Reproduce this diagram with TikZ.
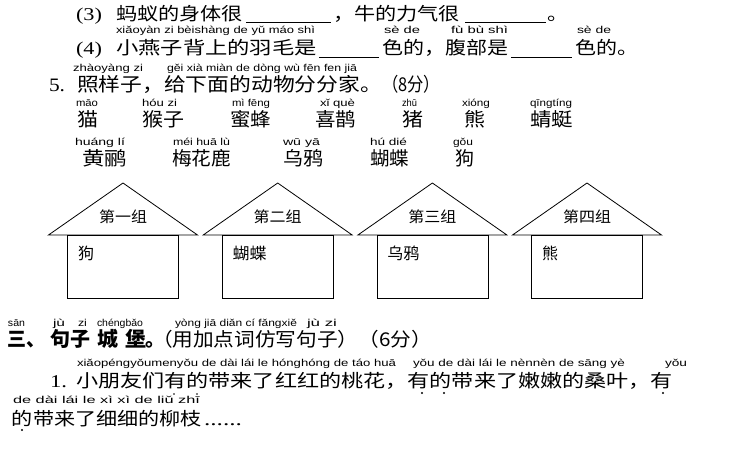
\documentclass[tikz,border=0pt]{standalone}
\usepackage{fontspec}
\usepackage{graphicx}
\setmainfont{Liberation Serif}
\newfontfamily\cjk{Noto Sans CJK SC}
\newfontfamily\py{Liberation Sans}
\newcommand\fw[2]{\resizebox{#1pt}{\height}{#2}}
\newcommand\fsz[1]{\fontsize{#1}{#1}\selectfont}
\tikzset{
 txt/.style={anchor=base west, inner sep=0pt, outer sep=0pt},
 pyt/.style={txt, font=\py\fsz{10}},
 zh/.style={txt, font=\cjk\fsz{18}},
 bigzh/.style={txt, font=\cjk\fsz{19}},
 hd/.style={txt, font=\cjk\bfseries\fsz{20}},
 hdr/.style={txt, font=\cjk\fsz{19}},
 num/.style={txt, font=\fsz{18}},
 numbig/.style={txt, font=\fsz{19}},
 lab/.style={anchor=base, inner sep=0pt, font=\cjk\fsz{15}},
 boxtxt/.style={txt, font=\cjk\fsz{16}},
 blank/.style={line width=0.6pt},
 house/.style={line width=0.8pt},
 emdot/.style={circle, fill, inner sep=0pt, minimum size=2.4pt},
 smdot/.style={circle, fill, inner sep=0pt, minimum size=1.8pt}
}
\begin{document}
\begin{tikzpicture}[x=1pt,y=-1pt]
\useasboundingbox (0,0) rectangle (748,459);
% ---- line (3)
\node[num] (n3) at (76,20) {\fw{26}{(3)}};
\node[zh] (l3a) at (116,20) {\fw{127}{蚂蚁的身体很}};
\coordinate (b1s) at (246,22); \coordinate (b1e) at (331,22);
\draw[blank] (b1s) -- (b1e);
\node[zh] (l3b) at (333,20) {\fw{127}{，牛的力气很}};
\coordinate (b2s) at (465,22); \coordinate (b2e) at (546,22);
\draw[blank] (b2s) -- (b2e);
\node[zh] (l3c) at (547,20) {\fw{21}{。}};
% ---- line (4)
\node[num] (n4) at (76,54) {\fw{26}{(4)}};
\node[pyt] (p4a) at (116,33) {\fw{199}{xiǎoyàn zi bèishàng de yǔ máo shì}};
\node[zh] (l4a) at (116,54) {\fw{201}{小燕子背上的羽毛是}};
\coordinate (b3s) at (319,57); \coordinate (b3e) at (379,57);
\draw[blank] (b3s) -- (b3e);
\node[pyt] (p4b) at (384,33) {\fw{36}{sè de}};
\node[zh] (l4b) at (382,54) {\fw{126}{色的，腹部是}};
\node[pyt] (p4c) at (451,33) {\fw{57}{fù bù shì}};
\coordinate (b4s) at (511,57); \coordinate (b4e) at (572,57);
\draw[blank] (b4s) -- (b4e);
\node[pyt] (p4d) at (577,33) {\fw{34}{sè de}};
\node[zh] (l4c) at (575,54) {\fw{63}{色的。}};
% ---- section 5
\node[pyt] (p5a) at (73,71) {\fw{70}{zhàoyàng zi}};
\node[pyt] (p5b) at (167,71) {\fw{190}{gěi xià miàn de dòng wù fēn fen jiā}};
\node[numbig] (n5) at (49,91) {\fw{16}{5.}};
\node[bigzh] (t5) at (77,91) {\fw{305}{照样子，给下面的动物分分家。}};
\node[bigzh] (s5) at (382,91) {\fw{58}{（8分）}};
% ---- animals row 1
\node[pyt] (pa1) at (76,106) {\fw{22}{māo}};
\node[pyt] (pa2) at (142,106) {\fw{35}{hóu zi}};
\node[pyt] (pa3) at (232,106) {\fw{38}{mì fēng}};
\node[pyt] (pa4) at (320,106) {\fw{35}{xǐ què}};
\node[pyt] (pa5) at (402,106) {\fw{15}{zhū}};
\node[pyt] (pa6) at (462,106) {\fw{28}{xióng}};
\node[pyt] (pa7) at (530,106) {\fw{42}{qīngtíng}};
\node[bigzh] (ta1) at (77,126) {\fw{21}{猫}};
\node[bigzh] (ta2) at (142,126) {\fw{42}{猴子}};
\node[bigzh] (ta3) at (230,126) {\fw{41}{蜜蜂}};
\node[bigzh] (ta4) at (315,126) {\fw{41}{喜鹊}};
\node[bigzh] (ta5) at (402,126) {\fw{21}{猪}};
\node[bigzh] (ta6) at (464,126) {\fw{21}{熊}};
\node[bigzh] (ta7) at (530,126) {\fw{43}{蜻蜓}};
% ---- animals row 2
\node[pyt] (pb1) at (75,145) {\fw{50}{huáng lí}};
\node[pyt] (pb2) at (173,145) {\fw{57}{méi huā lù}};
\node[pyt] (pb3) at (283,145) {\fw{37}{wū yā}};
\node[pyt] (pb4) at (370,145) {\fw{37}{hú dié}};
\node[pyt] (pb5) at (453,145) {\fw{20}{gǒu}};
\node[bigzh] (tb1) at (82,165) {\fw{45}{黄鹂}};
\node[bigzh] (tb2) at (172,165) {\fw{59}{梅花鹿}};
\node[bigzh] (tb3) at (283,165) {\fw{40}{乌鸦}};
\node[bigzh] (tb4) at (370,165) {\fw{39}{蝴蝶}};
\node[bigzh] (tb5) at (455,165) {\fw{19}{狗}};
% ---- houses
\foreach \i/\cx/\g/\a/\aw in {1/123/第一组/狗/16, 2/277.7/第二组/蝴蝶/34, 3/432.4/第三组/乌鸦/32, 4/587/第四组/熊/16} {
  \draw[house] ({\cx-74.5},235) -- (\cx,183) -- ({\cx+74.5},235) -- cycle;
  \draw[house] ({\cx-55.5},235) rectangle ({\cx+55.5},298);
  \node[lab] (g\i) at (\cx,222) {\fw{48}{\g}};
  \node[boxtxt] (a\i) at ({\cx-45},259) {\fw{\aw}{\a}};
}
% ---- section three
\node[pyt] (ps1) at (8,326) {\fw{17}{sān}};
\node[pyt] (ps2) at (53,326) {\fw{12}{jù}};
\node[pyt] (ps3) at (78,326) {\fw{9}{zi}};
\node[pyt] (ps4) at (97,326) {\fw{46}{chéngbǎo}};
\node[pyt] (ps5) at (175,326) {\fw{122}{yòng jiā diǎn cí fǎngxiě}};
\node[pyt] (ps6) at (307,326) {\fw{30}{jù zi}};
\node[hd] (h1) at (8,346) {\fw{38}{三、}};
\node[hd] (h2) at (50,346) {\fw{40}{句子}};
\node[hd] (h3) at (97,346) {\fw{21}{城}};
\node[hd] (h4) at (125,346) {\fw{21}{堡}};
\node[hd] (h5) at (145,346) {\makebox[7pt][l]{。}};
\node[hdr] (h6) at (152,346) {\fw{280}{（用加点词仿写句子）（6分）}};
% ---- sentence 1
\node[pyt] (p1a) at (77,366) {\fw{319}{xiǎopéngyǒumenyǒu de dài lái le hónghóng de táo huā}};
\node[pyt] (p1b) at (413,366) {\fw{212}{yǒu de dài lái le nènnèn de sāng yè}};
\node[pyt] (p1c) at (665,366) {\fw{22}{yǒu}};
\node[num] (n1) at (50,387) {\fw{17}{1.}};
\node[zh] (t1) at (76,387) {\fw{597}{小朋友们有的带来了红红的桃花，有的带来了嫩嫩的桑叶，有}};
\node[emdot] (d1) at (422,393) {};
\node[emdot] (d2) at (444,393) {};
\node[emdot] (d3) at (663,393) {};
\node[pyt] (p2) at (13,403) {\fw{187}{de dài lái le xì xì de liǔ zhī}};
\node[smdot] (d4) at (174,394) {};
\node[smdot] (d5) at (197,394) {};
\node[zh] (t2) at (12,425) {\fw{190}{的带来了细细的柳枝}};
\node[num] (t2e) at (204,425) {\fw{38}{......}};
\node[emdot] (d6) at (22,430) {};
\end{tikzpicture}
\end{document}
